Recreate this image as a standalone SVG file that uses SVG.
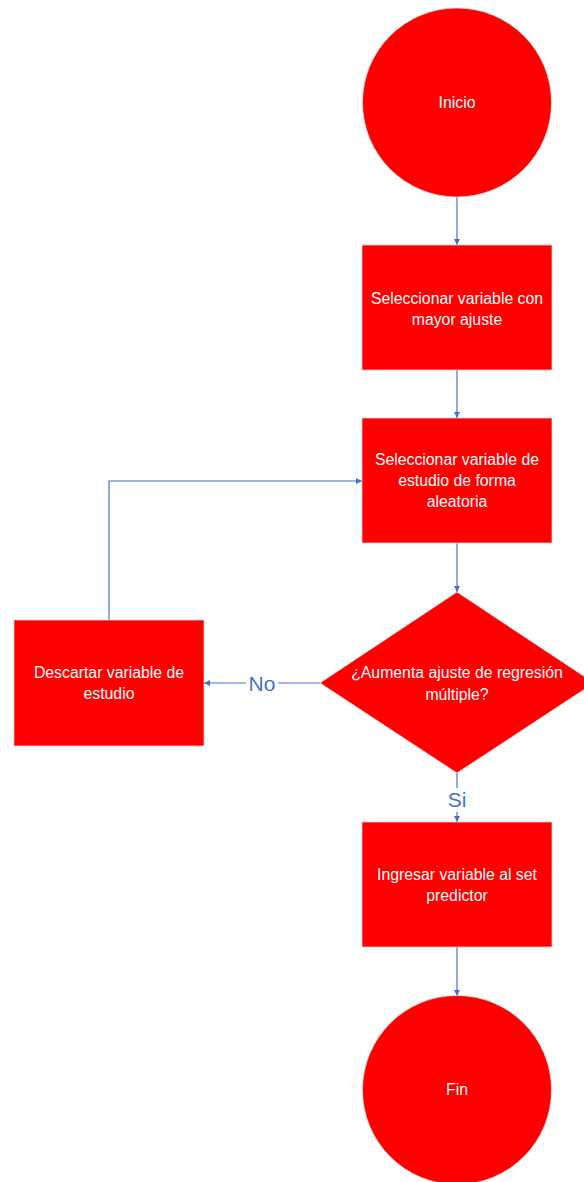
<svg xmlns="http://www.w3.org/2000/svg" width="584" height="1182" viewBox="0 0 584 1182">
<style>
.shape{fill:#ff0000;stroke:#d9d9d9;stroke-width:0.75}
.lbl{font-family:"Liberation Sans",Arial,sans-serif;font-size:15.8px;fill:#ffffff;text-anchor:middle}
.edge{fill:none;stroke:#4472c4;stroke-width:1.2}
.elbl{font-family:"Liberation Sans",Arial,sans-serif;font-size:21px;fill:#4472c4;text-anchor:middle}
</style>
<defs>
<marker id="arr" viewBox="0 0 10 10" refX="10" refY="5" markerWidth="6" markerHeight="6" markerUnits="userSpaceOnUse" orient="auto">
<path d="M0,0 L10,5 L0,10 z" fill="#4472c4"/>
</marker>
</defs>
<rect width="584" height="1182" fill="#ffffff"/>
<g id="connectors">
<path class="edge" d="M457,197 V245" marker-end="url(#arr)"/>
<path class="edge" d="M457,370 V418" marker-end="url(#arr)"/>
<path class="edge" d="M457,543 V592" marker-end="url(#arr)"/>
<path class="edge" d="M109,620 V481 H362" marker-end="url(#arr)"/>
<path class="edge" d="M320,683 H204" marker-end="url(#arr)"/>
<rect x="246" y="671" width="32" height="24" fill="#ffffff"/>
<text class="elbl" x="262" y="691">No</text>
<path class="edge" d="M457,773 V822" marker-end="url(#arr)"/>
<rect x="445" y="788" width="24" height="24" fill="#ffffff"/>
<text class="elbl" x="457" y="807">Si</text>
<path class="edge" d="M457,947 V996" marker-end="url(#arr)"/>
</g>
<g id="inicio">
<circle class="shape" cx="457" cy="102.5" r="94.5"/>
<text class="lbl" x="457" y="108">Inicio</text>
</g>
<g id="seleccionar-mayor">
<rect class="shape" x="362" y="245" width="190" height="125"/>
<text class="lbl" x="457" y="304">Seleccionar variable con</text>
<text class="lbl" x="457" y="325">mayor ajuste</text>
</g>
<g id="seleccionar-aleatoria">
<rect class="shape" x="362" y="418" width="190" height="125"/>
<text class="lbl" x="457" y="465">Seleccionar variable de</text>
<text class="lbl" x="457" y="486">estudio de forma</text>
<text class="lbl" x="457" y="507">aleatoria</text>
</g>
<g id="decision">
<polygon class="shape" points="457,592 594,683 457,773 320,683"/>
<text class="lbl" x="457" y="678">¿Aumenta ajuste de regresión</text>
<text class="lbl" x="457" y="700">múltiple?</text>
</g>
<g id="descartar">
<rect class="shape" x="14" y="620" width="190" height="126"/>
<text class="lbl" x="109" y="678">Descartar variable de</text>
<text class="lbl" x="109" y="699">estudio</text>
</g>
<g id="ingresar">
<rect class="shape" x="362" y="822" width="190" height="125"/>
<text class="lbl" x="457" y="880">Ingresar variable al set</text>
<text class="lbl" x="457" y="901">predictor</text>
</g>
<g id="fin">
<circle class="shape" cx="457" cy="1090" r="94.5"/>
<text class="lbl" x="457" y="1095">Fin</text>
</g>
</svg>
